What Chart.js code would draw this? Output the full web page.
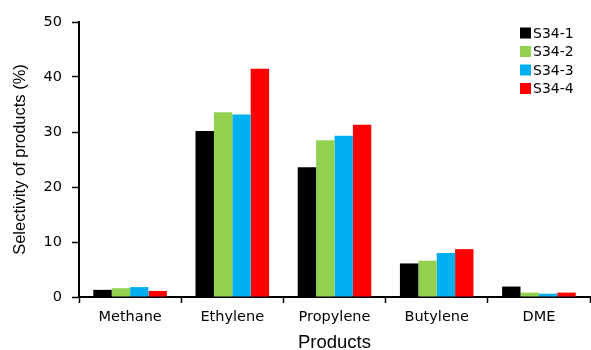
<!DOCTYPE html>
<html>
<head>
<meta charset="utf-8">
<script src="https://cdn.jsdelivr.net/npm/chart.js@4/dist/chart.umd.min.js"></script>
<style>
  html, body { margin: 0; padding: 0; background: #fff; }
  #wrap { width: 591px; height: 350px; }
</style>
</head>
<body>
<div id="wrap"><canvas id="c" width="591" height="350"></canvas></div>
<script>
// Product categories
const products = ['Methane', 'Ethylene', 'Propylene', 'Butylene', 'DME'];

// Selectivity (%) per sample
const s34_1 = [1.3, 30.2, 23.6, 6.1, 1.9];
const s34_2 = [1.6, 33.6, 28.5, 6.6, 0.8];
const s34_3 = [1.8, 33.2, 29.3, 8.0, 0.6];
const s34_4 = [1.1, 41.5, 31.3, 8.7, 0.8];

const seriesNames = ['S34-1', 'S34-2', 'S34-3', 'S34-4'];
const seriesColors = ['#000000', '#92D050', '#00B0F0', '#FF0000'];
const yTicks = [0, 10, 20, 30, 40, 50];
const yTitle = 'Selectivity of products (%)';

const tickFont = { family: 'DejaVu Sans', size: 14.5 };

// Legend drawn as a vertical list in the top-right corner of the plot
const cornerLegend = {
  id: 'cornerLegend',
  afterDraw(chart) {
    const ctx = chart.ctx;
    const x0 = 520, y0 = 33, step = 18.5, box = 11;
    ctx.save();
    ctx.font = '14px "DejaVu Sans"';
    ctx.textBaseline = 'middle';
    ctx.textAlign = 'left';
    chart.data.datasets.forEach((ds, i) => {
      const y = y0 + i * step;
      ctx.fillStyle = ds.backgroundColor;
      ctx.fillRect(x0, y - box / 2, box, box);
      ctx.fillStyle = '#000';
      ctx.fillText(ds.label, x0 + box + 2, y + 1);
    });
    ctx.restore();
  }
};

// Vertical axis title, centred on the value axis
const sideTitle = {
  id: 'sideTitle',
  afterDraw(chart) {
    const ctx = chart.ctx;
    const area = chart.chartArea;
    const cy = (area.top + area.bottom) / 2;
    ctx.save();
    ctx.translate(20, cy);
    ctx.rotate(-Math.PI / 2);
    ctx.font = '16.5px "Liberation Sans"';
    ctx.fillStyle = '#000';
    ctx.textAlign = 'center';
    ctx.textBaseline = 'middle';
    ctx.fillText(yTitle, 0, 0);
    ctx.restore();
  }
};

const datasets = [s34_1, s34_2, s34_3, s34_4].map((vals, i) => ({
  label: seriesNames[i],
  data: vals,
  backgroundColor: seriesColors[i],
  borderWidth: 0,
  categoryPercentage: 0.72,
  barPercentage: 1.0
}));

new Chart(document.getElementById('c'), {
  type: 'bar',
  data: { labels: products, datasets },
  plugins: [cornerLegend, sideTitle],
  options: {
    responsive: false,
    animation: false,
    devicePixelRatio: 1,
    layout: { padding: { top: 22, right: 1, left: 0, bottom: 0 } },
    plugins: {
      legend: { display: false },
      tooltip: { enabled: false }
    },
    scales: {
      x: {
        grid: {
          display: true,
          offset: true,
          drawOnChartArea: false,
          drawTicks: true,
          tickLength: 6,
          tickWidth: 1.5,
          tickColor: '#000'
        },
        border: { display: true, color: '#000', width: 2 },
        ticks: { color: '#000', font: tickFont, padding: 6, maxRotation: 0 },
        title: {
          display: true,
          text: 'Products',
          color: '#000',
          font: { family: 'Liberation Sans', size: 18.5, lineHeight: 1 },
          padding: { top: 4, bottom: -2 }
        },
        afterFit(scale) { scale.height = 53; }
      },
      y: {
        min: 0,
        max: 50,
        afterBuildTicks(scale) { scale.ticks = yTicks.map(v => ({ value: v })); },
        grid: {
          display: true,
          drawOnChartArea: false,
          drawTicks: true,
          tickLength: 7,
          tickWidth: 1.5,
          tickColor: '#000'
        },
        border: { display: true, color: '#000', width: 2 },
        ticks: { color: '#000', font: tickFont, padding: 10 },
        title: { display: false },
        afterFit(scale) { scale.width = 79; }
      }
    }
  }
});
</script>
</body>
</html>
